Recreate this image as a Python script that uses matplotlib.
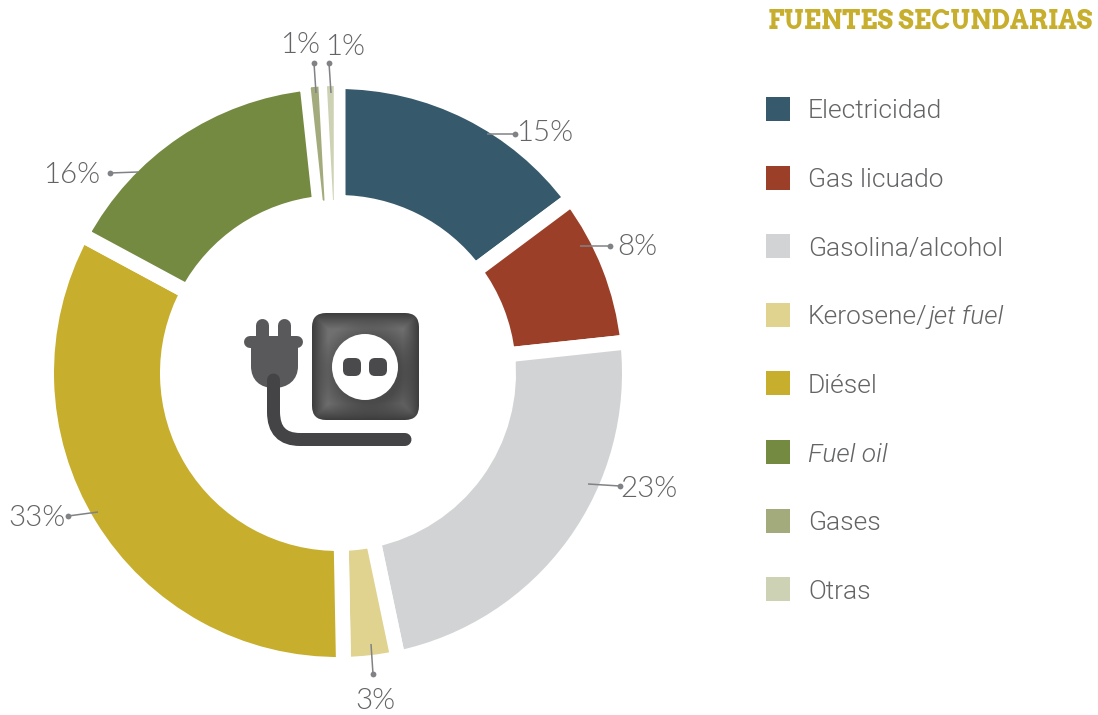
import numpy as np
import matplotlib
matplotlib.use("Agg")
import matplotlib.pyplot as plt
from matplotlib.patches import Circle, FancyBboxPatch, Rectangle, PathPatch
from matplotlib.path import Path

categories = ["Electricidad", "Gas licuado", "Gasolina/alcohol", "Kerosene/jet fuel",
              "Diésel", "Fuel oil", "Gases", "Otras"]
legend_parts = [[("Electricidad", "normal")], [("Gas licuado", "normal")],
                [("Gasolina/alcohol", "normal")], [("Kerosene/", "normal"), ("jet fuel", "italic")],
                [("Diésel", "normal")], [("Fuel oil", "italic")], [("Gases", "normal")], [("Otras", "normal")]]
shares = [14.8, 8.5, 23.4, 3.0, 33.17, 15.43, 0.85, 0.85]
percent_labels = ["15%", "8%", "23%", "3%", "33%", "16%", "1%", "1%"]
colors = ["#365A6B", "#9B3F28", "#D1D3D4", "#E0D28F", "#C7AE2C", "#748A41", "#A3AB7C", "#CDD2B4"]
title = "FUENTES SECUNDARIAS"

W, H = 1098, 715
PX = 72 / 100
TXT = "#636466"
LINE = "#808285"
ICON = "#4A4A4C"

fig = plt.figure(figsize=(W / 100, H / 100), dpi=100, facecolor="white")
ax = fig.add_axes([0, 0, 1, 1])


def Y(y):
    return H - y


gap = 15
wedges, _ = ax.pie(shares, colors=colors, startangle=90, counterclock=False,
                   center=(338, Y(373)), radius=284 + gap / 2,
                   wedgeprops=dict(width=106 + gap, edgecolor="white", linewidth=gap * PX),
                   frame=True)
for w, lw, z in zip(wedges[-2:], (6.5, 8.5), (3, 4)):
    w.set_linewidth(lw * PX)
    w.set_zorder(z)
    w.set_radius(287 + lw / 2)
    w.set_width(114 + lw)

ax.set_xlim(0, W)
ax.set_ylim(0, H)
ax.set_aspect("equal")
ax.axis("off")

# leaders: text centre, dot, end of the line inside the slice
leader = [((545, 133), (515, 134), (487, 134)),
          ((637, 247), (610, 246), (580, 246)),
          ((649, 489), (620, 486), (588, 484)),
          ((375, 701), (373, 674), (371, 644)),
          ((37, 518), (68, 516), (98, 512)),
          ((72, 175), (110, 173), (138, 172)),
          ((300, 45), (314, 63), (316, 93)),
          ((345, 47), (329, 63), (331, 93))]
for lab, (t, d, e) in zip(percent_labels, leader):
    ax.plot([d[0], e[0]], [Y(d[1]), Y(e[1])], color=LINE, lw=1.1, zorder=6, solid_capstyle="butt")
    ax.plot([d[0]], [Y(d[1])], "o", color=LINE, ms=4.2, mew=0, zorder=6)
    ax.text(t[0], Y(t[1]), lab, ha="center", va="center", family="Lato", weight=300,
            fontsize=29.5 * PX, color=TXT, zorder=7)

# legend
ax.text(1092, Y(22), title, ha="right", va="center", family="Arvo", weight=700,
        fontsize=25.7 * PX, color="#C7AE2C")
renderer = fig.canvas.get_renderer()
for i, (parts, c) in enumerate(zip(legend_parts, colors)):
    y = 109 + i * 68.6
    ax.add_patch(Rectangle((766, Y(y + 12)), 24, 24, fc=c, ec="none"))
    x = 808
    for s, style in parts:
        t = ax.text(x, Y(y), s, ha="left", va="center_baseline", family="Roboto", weight=300,
                    style=style, fontsize=26.4 * PX, color=TXT)
        x = t.get_window_extent(renderer).x1 + 1

# central icon: socket
yy, xx = np.mgrid[313:420:215j, 312:419:215j]
edge = np.minimum.reduce([xx - 312, 419 - xx, yy - 313, 420 - yy])
rim = np.clip(edge / 16, 0, 1)
dist = np.hypot(xx - 371, yy - 373)
halo = np.clip((dist - 30) / 25, 0, 1)
shade = 0.24 + 0.20 * rim * (0.25 + 0.75 * halo)
im = ax.imshow(shade, cmap="gray", vmin=0, vmax=1, extent=(312, 419, Y(420), Y(313)),
               origin="upper", zorder=5, aspect="equal", interpolation="bilinear")
clip = FancyBboxPatch((312 + 14, Y(420) + 14), 107 - 28, 107 - 28, boxstyle="round,pad=14,rounding_size=14",
                      fc="none", ec="none", transform=ax.transData)
ax.add_patch(clip)
im.set_clip_path(clip)
ax.set_xlim(0, W)
ax.set_ylim(0, H)
ax.add_patch(Circle((365, Y(367)), 33, fc="white", ec="none", zorder=6))
for hx in (352, 378):
    ax.add_patch(FancyBboxPatch((hx - 4, Y(367) - 4), 8, 8, boxstyle="round,pad=5,rounding_size=6",
                                fc=ICON, ec="none", zorder=7))

# central icon: plug
PLUG = "#59595B"
for px in (262, 284):
    ax.plot([px, px], [Y(325), Y(345)], color=PLUG, lw=13 * PX, solid_capstyle="round", zorder=5)
ax.plot([250, 297], [Y(342), Y(342)], color=PLUG, lw=12 * PX, solid_capstyle="round", zorder=5)
body = Path([(251, Y(340)), (298, Y(340)), (298, Y(366)),
             (298, Y(380)), (288, Y(388)), (274, Y(388)),
             (260, Y(388)), (251, Y(380)), (251, Y(366)), (251, Y(340))],
            [Path.MOVETO, Path.LINETO, Path.LINETO, Path.CURVE4, Path.CURVE4, Path.CURVE4,
             Path.CURVE4, Path.CURVE4, Path.CURVE4, Path.CLOSEPOLY])
ax.add_patch(PathPatch(body, fc=PLUG, ec="none", zorder=5))
cord = Path([(273.5, Y(380)), (273.5, Y(412)), (273.5, Y(439.5)), (300, Y(439.5)), (405, Y(439.5))],
            [Path.MOVETO, Path.LINETO, Path.CURVE3, Path.CURVE3, Path.LINETO])
ax.add_patch(PathPatch(cord, fc="none", ec="#444446", lw=13 * PX, capstyle="round", zorder=5))

fig.savefig("out.png", dpi=100, facecolor="white")
